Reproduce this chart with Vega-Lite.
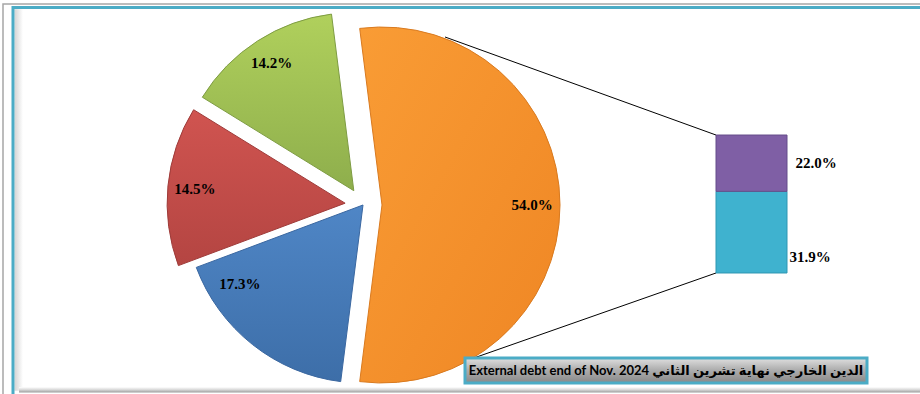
{
  "$schema": "https://vega.github.io/schema/vega-lite/v6.json",
  "width": 920,
  "height": 394,
  "autosize": {"type": "none"},
  "padding": 0,
  "background": "white",
  "config": {"view": {"stroke": null}},
  "datasets": {
    "pie": [
      {"segment": "A", "share": 0.540, "order": 1},
      {"segment": "B", "share": 0.173, "order": 2},
      {"segment": "C", "share": 0.145, "order": 3},
      {"segment": "D", "share": 0.142, "order": 4}
    ],
    "bar": [
      {"segment": "A1", "share": 0.319, "order": 1},
      {"segment": "A2", "share": 0.220, "order": 2}
    ],
    "one": [{}]
  },
  "layer": [
    {
      "data": {"name": "one"},
      "mark": {"type": "rect", "filled": false, "color": "#a6a6a6", "strokeWidth": 1.5},
      "encoding": {
        "x": {"datum": 3, "type": "quantitative", "scale": {"domain": [0, 920], "nice": false, "zero": false}, "axis": null},
        "x2": {"datum": 940},
        "y": {"datum": 1.05078, "type": "quantitative", "scale": {"domain": [-0.47266, 1.06641], "nice": false, "zero": false}, "axis": null},
        "y2": {"datum": -0.52}
      }
    },
    {
      "data": {"name": "one"},
      "mark": {"type": "rect", "fill": {"x1": 0, "y1": 0, "x2": 1, "y2": 0, "gradient": "linear", "stops": [{"offset": 0, "color": "#d4d4d4"}, {"offset": 1, "color": "#ffffff"}]}},
      "encoding": {
        "x": {"datum": 14.5, "type": "quantitative"},
        "x2": {"datum": 23},
        "y": {"datum": 1.03, "type": "quantitative"},
        "y2": {"datum": -0.46}
      }
    },
    {
      "data": {"name": "one"},
      "mark": {"type": "rect", "fill": {"x1": 0, "y1": 0, "x2": 0, "y2": 1, "gradient": "linear", "stops": [{"offset": 0, "color": "#ffffff"}, {"offset": 0.5, "color": "#d8d8d8"}, {"offset": 1, "color": "#9c9c9c"}]}},
      "encoding": {
        "x": {"datum": 19, "type": "quantitative"},
        "x2": {"datum": 940},
        "y": {"datum": -0.44531, "type": "quantitative"},
        "y2": {"datum": -0.4668}
      }
    },
    {
      "data": {"name": "one"},
      "mark": {"type": "rect", "filled": false, "color": "#4bacc6", "strokeWidth": 3},
      "encoding": {
        "x": {"datum": 13, "type": "quantitative"},
        "x2": {"datum": 940},
        "y": {"datum": 1.03711, "type": "quantitative"},
        "y2": {"datum": -0.52}
      }
    },
    {
      "data": {"name": "one"},
      "mark": {"type": "rule", "color": "#000000", "strokeWidth": 1},
      "encoding": {
        "x": {"datum": 445, "type": "quantitative"},
        "y": {"datum": 0.92188, "type": "quantitative"},
        "x2": {"datum": 716},
        "y2": {"datum": 0.539}
      }
    },
    {
      "data": {"name": "one"},
      "mark": {"type": "rule", "color": "#000000", "strokeWidth": 1},
      "encoding": {
        "x": {"datum": 471, "type": "quantitative"},
        "y": {"datum": -0.33594, "type": "quantitative"},
        "x2": {"datum": 716},
        "y2": {"datum": 0}
      }
    },
    {
      "data": {"name": "pie"},
      "transform": [
        {"stack": "share", "groupby": [], "sort": [{"field": "order", "order": "ascending"}], "as": ["s0", "s1"]},
        {"filter": "datum.order == 1"}
      ],
      "mark": {"type": "arc", "radius": 178, "xOffset": 19, "yOffset": 0, "stroke": "#d97a1f", "strokeWidth": 1,
        "fill": {"x1": 0, "y1": 0, "x2": 1, "y2": 1, "gradient": "linear", "stops": [{"offset": 0, "color": "#f99c35"}, {"offset": 1, "color": "#ef8624"}]}},
      "encoding": {
        "x": {"datum": 363, "type": "quantitative"},
        "y": {"datum": 0.265625, "type": "quantitative"},
        "theta": {"field": "s0", "type": "quantitative", "scale": {"domain": [0, 1], "range": [-0.12566, 6.15752]}},
        "theta2": {"field": "s1"}
      }
    },
    {
      "data": {"name": "pie"},
      "transform": [
        {"stack": "share", "groupby": [], "sort": [{"field": "order", "order": "ascending"}], "as": ["s0", "s1"]},
        {"filter": "datum.order == 2"}
      ],
      "mark": {"type": "arc", "radius": 178, "stroke": "#3a67a0", "strokeWidth": 1,
        "fill": {"x1": 0, "y1": 0, "x2": 0, "y2": 1, "gradient": "linear", "stops": [{"offset": 0, "color": "#4f86c6"}, {"offset": 1, "color": "#3d6ea8"}]}},
      "encoding": {
        "x": {"datum": 363, "type": "quantitative"},
        "y": {"datum": 0.265625, "type": "quantitative"},
        "theta": {"field": "s0", "type": "quantitative", "scale": {"domain": [0, 1], "range": [-0.12566, 6.15752]}},
        "theta2": {"field": "s1"}
      }
    },
    {
      "data": {"name": "pie"},
      "transform": [
        {"stack": "share", "groupby": [], "sort": [{"field": "order", "order": "ascending"}], "as": ["s0", "s1"]},
        {"filter": "datum.order == 3"}
      ],
      "mark": {"type": "arc", "radius": 178, "xOffset": -17.9, "yOffset": -1.8, "stroke": "#9e3b39", "strokeWidth": 1,
        "fill": {"x1": 0, "y1": 0, "x2": 0, "y2": 1, "gradient": "linear", "stops": [{"offset": 0, "color": "#d05450"}, {"offset": 1, "color": "#b44542"}]}},
      "encoding": {
        "x": {"datum": 363, "type": "quantitative"},
        "y": {"datum": 0.265625, "type": "quantitative"},
        "theta": {"field": "s0", "type": "quantitative", "scale": {"domain": [0, 1], "range": [-0.12566, 6.15752]}},
        "theta2": {"field": "s1"}
      }
    },
    {
      "data": {"name": "pie"},
      "transform": [
        {"stack": "share", "groupby": [], "sort": [{"field": "order", "order": "ascending"}], "as": ["s0", "s1"]},
        {"filter": "datum.order == 4"}
      ],
      "mark": {"type": "arc", "radius": 178, "xOffset": -9.2, "yOffset": -14.3, "stroke": "#7e9c43", "strokeWidth": 1,
        "fill": {"x1": 0, "y1": 0, "x2": 0, "y2": 1, "gradient": "linear", "stops": [{"offset": 0, "color": "#b0d05c"}, {"offset": 1, "color": "#8eae4c"}]}},
      "encoding": {
        "x": {"datum": 363, "type": "quantitative"},
        "y": {"datum": 0.265625, "type": "quantitative"},
        "theta": {"field": "s0", "type": "quantitative", "scale": {"domain": [0, 1], "range": [-0.12566, 6.15752]}},
        "theta2": {"field": "s1"}
      }
    },
    {
      "data": {"name": "pie"},
      "mark": {"type": "text", "radius": 169, "font": "Liberation Serif", "fontWeight": "bold", "fontSize": 15, "color": "#000000", "align": "center", "baseline": "middle"},
      "encoding": {
        "x": {"datum": 363, "type": "quantitative"},
        "y": {"datum": 0.265625, "type": "quantitative"},
        "theta": {"field": "share", "type": "quantitative", "stack": true, "scale": {"domain": [0, 1], "range": [-0.12566, 6.15752]}},
        "order": {"field": "order", "type": "quantitative"},
        "text": {"condition": {"test": "datum.order == 2", "value": ""}, "field": "share", "type": "quantitative", "format": ".1%"}
      }
    },
    {
      "data": {"name": "pie"},
      "mark": {"type": "text", "radius": 146, "dx": -32.5, "dy": -35.5, "font": "Liberation Serif", "fontWeight": "bold", "fontSize": 15, "color": "#000000", "align": "center", "baseline": "middle"},
      "encoding": {
        "x": {"datum": 363, "type": "quantitative"},
        "y": {"datum": 0.265625, "type": "quantitative"},
        "theta": {"field": "share", "type": "quantitative", "stack": true, "scale": {"domain": [0, 1], "range": [-0.12566, 6.15752]}},
        "order": {"field": "order", "type": "quantitative"},
        "text": {"condition": {"test": "datum.order != 2", "value": ""}, "field": "share", "type": "quantitative", "format": ".1%"}
      }
    },
    {
      "data": {"name": "bar"},
      "transform": [
        {"stack": "share", "groupby": [], "sort": [{"field": "order", "order": "ascending"}], "as": ["s0", "s1"]}
      ],
      "mark": {"type": "rect", "strokeWidth": 1},
      "encoding": {
        "x": {"datum": 716, "type": "quantitative"},
        "x2": {"datum": 787},
        "y": {"field": "s0", "type": "quantitative"},
        "y2": {"field": "s1"},
        "fill": {"field": "segment", "type": "nominal", "scale": {"domain": ["A1", "A2"], "range": ["#3fb2cf", "#7f5fa5"]}, "legend": null},
        "stroke": {"field": "segment", "type": "nominal", "scale": {"domain": ["A1", "A2"], "range": ["#2f97b2", "#654c8a"]}, "legend": null}
      }
    },
    {
      "data": {"name": "bar"},
      "transform": [
        {"stack": "share", "groupby": [], "sort": [{"field": "order", "order": "ascending"}], "as": ["s0", "s1"]},
        {"filter": "datum.order == 2"}
      ],
      "mark": {"type": "text", "dy": 28, "font": "Liberation Serif", "fontWeight": "bold", "fontSize": 15, "color": "#000000", "align": "center", "baseline": "middle"},
      "encoding": {
        "x": {"datum": 816, "type": "quantitative"},
        "y": {"field": "s1", "type": "quantitative"},
        "text": {"field": "share", "type": "quantitative", "format": ".1%"}
      }
    },
    {
      "data": {"name": "bar"},
      "transform": [
        {"stack": "share", "groupby": [], "sort": [{"field": "order", "order": "ascending"}], "as": ["s0", "s1"]},
        {"filter": "datum.order == 1"}
      ],
      "mark": {"type": "text", "dy": -16, "font": "Liberation Serif", "fontWeight": "bold", "fontSize": 15, "color": "#000000", "align": "center", "baseline": "middle"},
      "encoding": {
        "x": {"datum": 810, "type": "quantitative"},
        "y": {"field": "s0", "type": "quantitative"},
        "text": {"field": "share", "type": "quantitative", "format": ".1%"}
      }
    },
    {
      "data": {"name": "one"},
      "mark": {"type": "rect", "stroke": "#4bacc6", "strokeWidth": 3,
        "fill": {"x1": 0, "y1": 0, "x2": 0, "y2": 1, "gradient": "linear", "stops": [{"offset": 0, "color": "#e0e0e0"}, {"offset": 0.45, "color": "#b0b0b0"}, {"offset": 1, "color": "#888888"}]}},
      "encoding": {
        "x": {"datum": 465, "type": "quantitative"},
        "x2": {"datum": 867},
        "y": {"datum": -0.33203, "type": "quantitative"},
        "y2": {"datum": -0.42969}
      }
    },
    {
      "data": {"name": "one"},
      "mark": {"type": "text", "text": "External debt end of  Nov. 2024 الدين الخارجي نهاية تشرين الثاني", "font": "Lato, DejaVu Sans", "fontWeight": "bold", "fontSize": 13, "color": "#000000", "align": "center", "baseline": "middle"},
      "encoding": {
        "x": {"datum": 666, "type": "quantitative"},
        "y": {"datum": -0.38281, "type": "quantitative"}
      }
    }
  ]
}
